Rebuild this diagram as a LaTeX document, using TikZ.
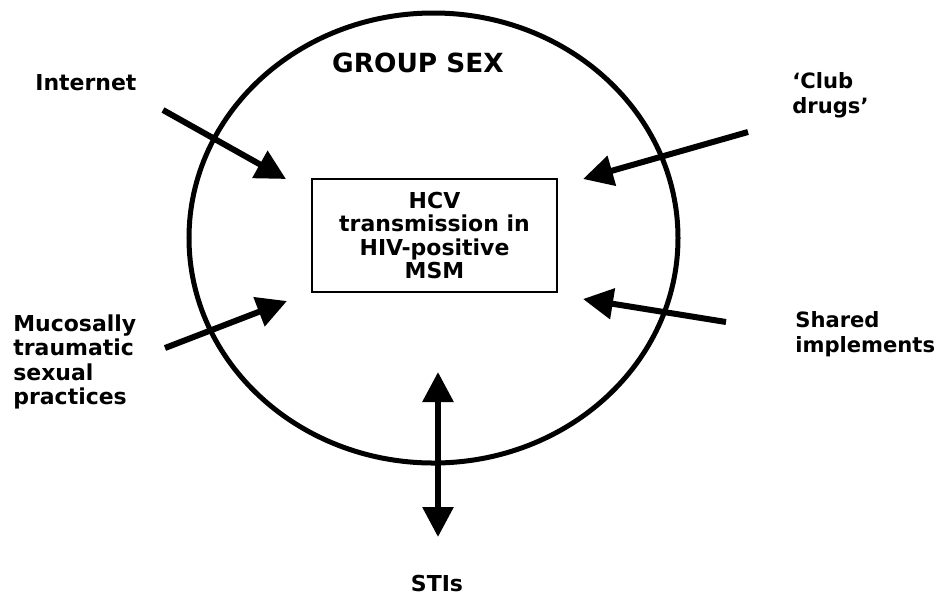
\documentclass[tikz,border=0pt]{standalone}
\usepackage{fontspec}
\setmainfont{DejaVu Sans}
\usetikzlibrary{arrows.meta}
\usetikzlibrary{shapes.geometric}
\tikzstyle{label}=[font={\fontsize{12.5}{14}\selectfont\bfseries}, inner sep=0mm]
\tikzstyle{sidelabel}=[label, anchor=west, align=left]
\tikzstyle{centrebox}=[draw, line width=0.6pt, font={\fontsize{12.5}{13.2}\selectfont\bfseries}, align=center, minimum width=4.9cm, minimum height=2.26cm, inner sep=0mm]
\tikzstyle{link}=[-{Triangle[length=0.6cm, width=0.6cm]}, line width=1.2mm]
\tikzstyle{twolink}=[{Triangle[length=0.6cm, width=0.6cm]}-{Triangle[length=0.6cm, width=0.6cm]}, line width=1.2mm]

\begin{document}
\begin{tikzpicture}[x=0.2mm, y=-0.2mm]

    \useasboundingbox (0, 0) rectangle (939, 595);

    \node[draw, ellipse, line width=1mm, minimum width=9.78cm, minimum height=9cm, inner sep=0mm] (groupsex) at (433.5, 238) {};
    \node[label, font={\fontsize{15}{16}\selectfont\bfseries}] (title) at (418, 63) {GROUP SEX};

    \node[centrebox] (hcv) at (434.5, 235.5) {HCV\\transmission in\\HIV-positive\\MSM};

    \node[sidelabel] (internet) at (35, 83) {Internet};
    \node[sidelabel, font={\fontsize{12}{14}\selectfont\bfseries}] (clubdrugs) at (792, 95) {`Club\\drugs'};
    \node[sidelabel] (mucosal) at (13, 362) {Mucosally\\traumatic\\sexual\\practices};
    \node[sidelabel, font={\fontsize{12}{14}\selectfont\bfseries}] (shared) at (795, 334) {Shared\\implements};
    \node[label] (stis) at (437, 583) {STIs};

    % arrow ends
    \coordinate (internetfrom) at (163, 110);
    \coordinate (internetto) at (286, 179);
    \coordinate (clubfrom) at (748, 132);
    \coordinate (clubto) at (583, 179);
    \coordinate (mucosalfrom) at (165, 348);
    \coordinate (mucosalto) at (287, 301);
    \coordinate (sharedfrom) at (726, 322);
    \coordinate (sharedto) at (583, 299);
    \coordinate (stitop) at (438, 372);
    \coordinate (stibottom) at (438, 537);

    \draw[link] (internetfrom) -- (internetto);
    \draw[link] (clubfrom) -- (clubto);
    \draw[link] (mucosalfrom) -- (mucosalto);
    \draw[link] (sharedfrom) -- (sharedto);
    \draw[twolink] (stibottom) -- (stitop);

\end{tikzpicture}
\end{document}
